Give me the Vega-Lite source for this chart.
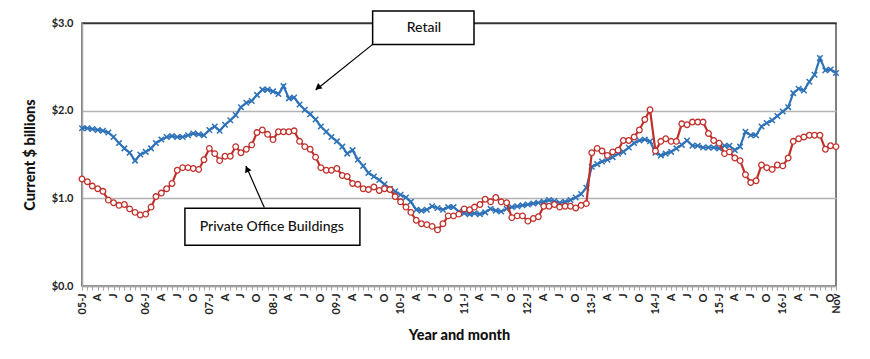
{
  "$schema": "https://vega.github.io/schema/vega-lite/v6.json",
  "width": 754,
  "height": 263,
  "autosize": {"type": "none"},
  "padding": {"left": 82, "top": 23, "right": 34, "bottom": 73},
  "background": "white",
  "config": {"font": "Lato", "view": {"stroke": "#555555", "strokeWidth": 1.5}},
  "datasets": {
    "series": [
      {"m":"2005-01","retail":1.80,"office":1.22},{"m":"2005-02","retail":1.80,"office":1.19},{"m":"2005-03","retail":1.79,"office":1.14},{"m":"2005-04","retail":1.78,"office":1.11},{"m":"2005-05","retail":1.77,"office":1.08},{"m":"2005-06","retail":1.75,"office":0.98},{"m":"2005-07","retail":1.70,"office":0.95},{"m":"2005-08","retail":1.63,"office":0.92},{"m":"2005-09","retail":1.57,"office":0.93},{"m":"2005-10","retail":1.52,"office":0.88},{"m":"2005-11","retail":1.43,"office":0.84},{"m":"2005-12","retail":1.50,"office":0.81},
      {"m":"2006-01","retail":1.53,"office":0.82},{"m":"2006-02","retail":1.57,"office":0.90},{"m":"2006-03","retail":1.63,"office":1.02},{"m":"2006-04","retail":1.67,"office":1.06},{"m":"2006-05","retail":1.70,"office":1.11},{"m":"2006-06","retail":1.71,"office":1.17},{"m":"2006-07","retail":1.70,"office":1.32},{"m":"2006-08","retail":1.70,"office":1.35},{"m":"2006-09","retail":1.72,"office":1.35},{"m":"2006-10","retail":1.74,"office":1.34},{"m":"2006-11","retail":1.73,"office":1.33},{"m":"2006-12","retail":1.72,"office":1.44},
      {"m":"2007-01","retail":1.78,"office":1.57},{"m":"2007-02","retail":1.82,"office":1.51},{"m":"2007-03","retail":1.77,"office":1.43},{"m":"2007-04","retail":1.84,"office":1.48},{"m":"2007-05","retail":1.89,"office":1.48},{"m":"2007-06","retail":1.95,"office":1.59},{"m":"2007-07","retail":2.04,"office":1.52},{"m":"2007-08","retail":2.09,"office":1.56},{"m":"2007-09","retail":2.11,"office":1.61},{"m":"2007-10","retail":2.18,"office":1.75},{"m":"2007-11","retail":2.24,"office":1.78},{"m":"2007-12","retail":2.24,"office":1.73},
      {"m":"2008-01","retail":2.22,"office":1.67},{"m":"2008-02","retail":2.19,"office":1.76},{"m":"2008-03","retail":2.28,"office":1.76},{"m":"2008-04","retail":2.14,"office":1.76},{"m":"2008-05","retail":2.15,"office":1.77},{"m":"2008-06","retail":2.07,"office":1.65},{"m":"2008-07","retail":2.01,"office":1.59},{"m":"2008-08","retail":1.96,"office":1.56},{"m":"2008-09","retail":1.90,"office":1.47},{"m":"2008-10","retail":1.82,"office":1.35},{"m":"2008-11","retail":1.76,"office":1.32},{"m":"2008-12","retail":1.70,"office":1.32},
      {"m":"2009-01","retail":1.65,"office":1.34},{"m":"2009-02","retail":1.59,"office":1.26},{"m":"2009-03","retail":1.51,"office":1.25},{"m":"2009-04","retail":1.55,"office":1.17},{"m":"2009-05","retail":1.44,"office":1.16},{"m":"2009-06","retail":1.37,"office":1.11},{"m":"2009-07","retail":1.29,"office":1.10},{"m":"2009-08","retail":1.25,"office":1.13},{"m":"2009-09","retail":1.21,"office":1.09},{"m":"2009-10","retail":1.16,"office":1.11},{"m":"2009-11","retail":1.11,"office":1.10},{"m":"2009-12","retail":1.08,"office":1.02},
      {"m":"2010-01","retail":1.04,"office":0.96},{"m":"2010-02","retail":1.01,"office":0.90},{"m":"2010-03","retail":0.96,"office":0.84},{"m":"2010-04","retail":0.87,"office":0.75},{"m":"2010-05","retail":0.86,"office":0.71},{"m":"2010-06","retail":0.87,"office":0.70},{"m":"2010-07","retail":0.91,"office":0.68},{"m":"2010-08","retail":0.89,"office":0.64},{"m":"2010-09","retail":0.87,"office":0.71},{"m":"2010-10","retail":0.90,"office":0.80},{"m":"2010-11","retail":0.90,"office":0.80},{"m":"2010-12","retail":0.85,"office":0.82},
      {"m":"2011-01","retail":0.83,"office":0.88},{"m":"2011-02","retail":0.82,"office":0.87},{"m":"2011-03","retail":0.83,"office":0.90},{"m":"2011-04","retail":0.82,"office":0.93},{"m":"2011-05","retail":0.84,"office":0.99},{"m":"2011-06","retail":0.88,"office":0.96},{"m":"2011-07","retail":0.86,"office":1.01},{"m":"2011-08","retail":0.85,"office":0.96},{"m":"2011-09","retail":0.88,"office":0.95},{"m":"2011-10","retail":0.90,"office":0.78},{"m":"2011-11","retail":0.91,"office":0.80},{"m":"2011-12","retail":0.92,"office":0.80},
      {"m":"2012-01","retail":0.93,"office":0.74},{"m":"2012-02","retail":0.94,"office":0.77},{"m":"2012-03","retail":0.95,"office":0.79},{"m":"2012-04","retail":0.96,"office":0.91},{"m":"2012-05","retail":0.98,"office":0.91},{"m":"2012-06","retail":0.97,"office":0.93},{"m":"2012-07","retail":0.95,"office":0.90},{"m":"2012-08","retail":0.96,"office":0.91},{"m":"2012-09","retail":0.98,"office":0.91},{"m":"2012-10","retail":1.01,"office":0.89},{"m":"2012-11","retail":1.05,"office":0.92},{"m":"2012-12","retail":1.12,"office":0.94},
      {"m":"2013-01","retail":1.36,"office":1.52},{"m":"2013-02","retail":1.39,"office":1.57},{"m":"2013-03","retail":1.42,"office":1.54},{"m":"2013-04","retail":1.44,"office":1.49},{"m":"2013-05","retail":1.47,"office":1.53},{"m":"2013-06","retail":1.51,"office":1.55},{"m":"2013-07","retail":1.53,"office":1.66},{"m":"2013-08","retail":1.58,"office":1.66},{"m":"2013-09","retail":1.63,"office":1.70},{"m":"2013-10","retail":1.66,"office":1.78},{"m":"2013-11","retail":1.67,"office":1.90},{"m":"2013-12","retail":1.65,"office":2.01},
      {"m":"2014-01","retail":1.52,"office":1.54},{"m":"2014-02","retail":1.49,"office":1.65},{"m":"2014-03","retail":1.51,"office":1.68},{"m":"2014-04","retail":1.53,"office":1.65},{"m":"2014-05","retail":1.57,"office":1.65},{"m":"2014-06","retail":1.61,"office":1.85},{"m":"2014-07","retail":1.66,"office":1.84},{"m":"2014-08","retail":1.60,"office":1.87},{"m":"2014-09","retail":1.60,"office":1.87},{"m":"2014-10","retail":1.58,"office":1.87},{"m":"2014-11","retail":1.58,"office":1.74},{"m":"2014-12","retail":1.58,"office":1.66},
      {"m":"2015-01","retail":1.57,"office":1.63},{"m":"2015-02","retail":1.60,"office":1.51},{"m":"2015-03","retail":1.60,"office":1.53},{"m":"2015-04","retail":1.55,"office":1.46},{"m":"2015-05","retail":1.59,"office":1.43},{"m":"2015-06","retail":1.76,"office":1.27},{"m":"2015-07","retail":1.72,"office":1.18},{"m":"2015-08","retail":1.72,"office":1.20},{"m":"2015-09","retail":1.82,"office":1.38},{"m":"2015-10","retail":1.86,"office":1.35},{"m":"2015-11","retail":1.89,"office":1.33},{"m":"2015-12","retail":1.94,"office":1.38},
      {"m":"2016-01","retail":1.99,"office":1.37},{"m":"2016-02","retail":2.04,"office":1.46},{"m":"2016-03","retail":2.20,"office":1.65},{"m":"2016-04","retail":2.25,"office":1.68},{"m":"2016-05","retail":2.23,"office":1.70},{"m":"2016-06","retail":2.33,"office":1.72},{"m":"2016-07","retail":2.41,"office":1.72},{"m":"2016-08","retail":2.60,"office":1.72},{"m":"2016-09","retail":2.46,"office":1.56},{"m":"2016-10","retail":2.47,"office":1.60},{"m":"2016-11","retail":2.43,"office":1.59}
    ],
    "boxes": [
      {"label": "Retail", "x": "2009-07-25", "x2": "2011-02-26", "y": 3.136, "y2": 2.756, "tx": "2010-05-15", "ty": 2.94},
      {"label": "Private Office Buildings", "x": "2006-08-14", "x2": "2009-05-13", "y": 0.886, "y2": 0.464, "tx": "2007-12-25", "ty": 0.673}
    ],
    "arrows": [
      {"label": "Retail", "x": "2009-07-25", "y": 2.756, "x2": "2008-09-02", "y2": 2.235, "hx": "2008-09-14", "hy": 2.262},
      {"label": "Private Office Buildings", "x": "2007-11-12", "y": 0.895, "x2": "2007-07-30", "y2": 1.368, "hx": "2007-08-05", "hy": 1.335}
    ]
  },
  "layer": [
    {
      "data": {"name": "series"},
      "mark": {"type": "line", "color": "#2e72b8", "strokeWidth": 2.2},
      "encoding": {
        "x": {
          "field": "m", "type": "temporal",
          "scale": {"type": "utc", "domain": [{"year": 2005, "month": 1, "date": 1, "utc": true}, {"year": 2016, "month": 11, "date": 1, "utc": true}], "nice": false},
          "axis": {
            "title": "Year and month",
            "tickCount": {"interval": "month", "step": 1},
            "labelExpr": "utcmonth(datum.value)==0 ? utcFormat(datum.value,'%y')+'-J' : utcmonth(datum.value)==3 ? 'A' : utcmonth(datum.value)==6 ? 'J' : utcmonth(datum.value)==9 ? 'O' : (utcyear(datum.value)==2016 && utcmonth(datum.value)==10) ? 'Nov' : ''",
            "labelAngle": -90,
            "labelOverlap": false,
            "labelBound": false,
            "labelFlush": false,
            "grid": false,
            "tickColor": "#a6a6a6",
            "tickSize": 4,
            "domainColor": "#a6a6a6",
            "domainWidth": 1.5,
            "labelFontSize": 11,
            "labelFontWeight": "bold",
            "labelColor": "#222222",
            "labelPadding": 3,
            "titleFontSize": 14.5,
            "titleFontWeight": 900,
            "titleColor": "#111111",
            "titlePadding": 14
          }
        },
        "y": {
          "field": "retail", "type": "quantitative",
          "scale": {"domain": [0, 3], "nice": false, "zero": true},
          "axis": {
            "title": "Current $ billions",
            "values": [0, 1, 2, 3],
            "format": "$.1f",
            "grid": true,
            "gridColor": {"condition": {"test": "datum.value==3", "value": "#333333"}, "value": "#b3b3b3"},
            "gridWidth": 1.5,
            "domainColor": "#a6a6a6",
            "domainWidth": 1.5,
            "ticks": false,
            "labelPadding": 9,
            "labelFontSize": 11,
            "labelFontWeight": "bold",
            "labelColor": "#222222",
            "titleFontSize": 14.5,
            "titleFontWeight": 900,
            "titleColor": "#111111",
            "titlePadding": 14
          }
        }
      }
    },
    {
      "data": {"name": "series"},
      "mark": {"type": "point", "shape": "M-1,-1L1,1M1,-1L-1,1", "size": 30, "filled": false, "stroke": "#2e72b8", "strokeWidth": 1.5, "opacity": 1},
      "encoding": {
        "x": {"field": "m", "type": "temporal"},
        "y": {"field": "retail", "type": "quantitative"}
      }
    },
    {
      "data": {"name": "series"},
      "mark": {"type": "line", "color": "#c0312c", "strokeWidth": 2.2},
      "encoding": {
        "x": {"field": "m", "type": "temporal"},
        "y": {"field": "office", "type": "quantitative"}
      }
    },
    {
      "data": {"name": "series"},
      "mark": {"type": "point", "shape": "circle", "size": 32, "filled": true, "fill": "white", "stroke": "#c0312c", "strokeWidth": 1.3, "opacity": 1},
      "encoding": {
        "x": {"field": "m", "type": "temporal"},
        "y": {"field": "office", "type": "quantitative"}
      }
    },
    {
      "data": {"name": "arrows"},
      "mark": {"type": "rule", "color": "black", "strokeWidth": 1.2},
      "encoding": {
        "x": {"field": "x", "type": "temporal"},
        "x2": {"field": "x2"},
        "y": {"field": "y", "type": "quantitative"},
        "y2": {"field": "y2"}
      }
    },
    {
      "data": {"name": "arrows"},
      "transform": [{"filter": "datum.label == 'Retail'"}],
      "mark": {"type": "point", "shape": "triangle-up", "filled": true, "color": "black", "size": 50, "angle": 232, "opacity": 1},
      "encoding": {
        "x": {"field": "hx", "type": "temporal"},
        "y": {"field": "hy", "type": "quantitative"}
      }
    },
    {
      "data": {"name": "arrows"},
      "transform": [{"filter": "datum.label != 'Retail'"}],
      "mark": {"type": "point", "shape": "triangle-up", "filled": true, "color": "black", "size": 50, "angle": 336, "opacity": 1},
      "encoding": {
        "x": {"field": "hx", "type": "temporal"},
        "y": {"field": "hy", "type": "quantitative"}
      }
    },
    {
      "data": {"name": "boxes"},
      "mark": {"type": "rect", "fill": "white", "stroke": "black", "strokeWidth": 1.5},
      "encoding": {
        "x": {"field": "x", "type": "temporal"},
        "x2": {"field": "x2"},
        "y": {"field": "y", "type": "quantitative"},
        "y2": {"field": "y2"}
      }
    },
    {
      "data": {"name": "boxes"},
      "mark": {"type": "text", "fontSize": 14, "fontWeight": 500, "color": "#111111", "align": "center", "baseline": "middle"},
      "encoding": {
        "x": {"field": "tx", "type": "temporal"},
        "y": {"field": "ty", "type": "quantitative"},
        "text": {"field": "label"}
      }
    }
  ]
}
